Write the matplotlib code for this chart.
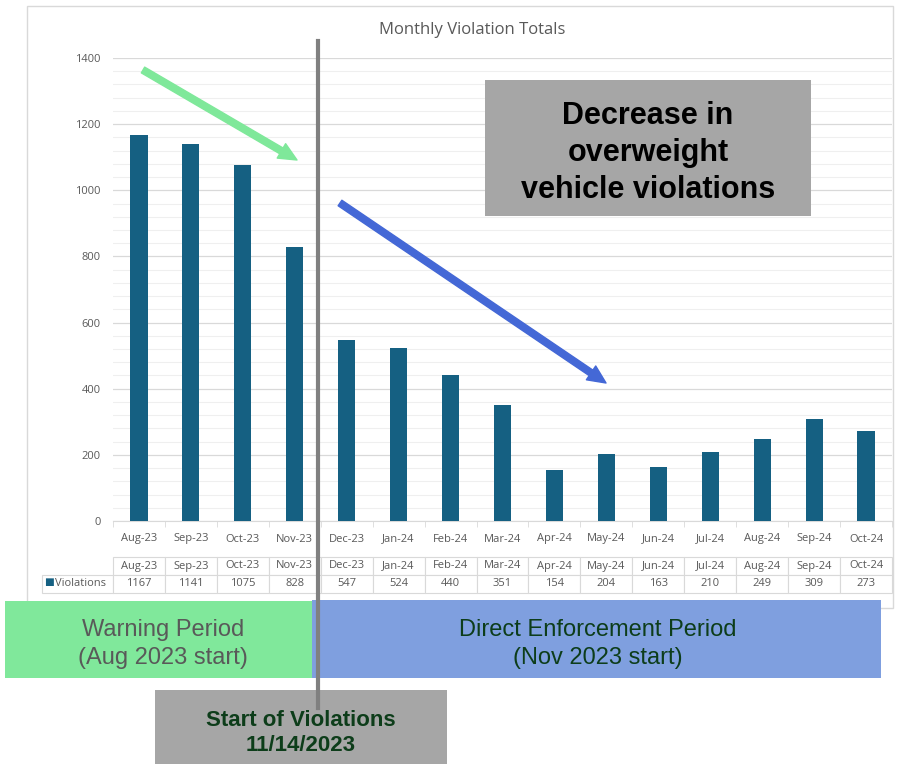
import matplotlib
matplotlib.use("Agg")
import matplotlib.pyplot as plt
import numpy as np
from matplotlib.patches import Rectangle, FancyArrowPatch
from matplotlib.lines import Line2D
from matplotlib.ticker import MultipleLocator

months = ["Aug-23", "Sep-23", "Oct-23", "Nov-23", "Dec-23", "Jan-24", "Feb-24", "Mar-24",
          "Apr-24", "May-24", "Jun-24", "Jul-24", "Aug-24", "Sep-24", "Oct-24"]
violations = [1167, 1141, 1075, 828, 547, 524, 440, 351, 154, 204, 163, 210, 249, 309, 273]
series_name = "Violations"
chart_title = "Monthly Violation Totals"

W, H = 897, 764
bar_color = "#156082"
txt_gray = "#595959"
grid_major = "#d9d9d9"
grid_minor = "#efefef"


def fx(x):
    return x / W


def fy(y):
    return 1 - y / H


fig = plt.figure(figsize=(W / 100, H / 100), dpi=100)
plt.rcParams["font.family"] = ["Open Sans", "DejaVu Sans"]

# chart frame
fig.add_artist(Rectangle((fx(27), fy(608)), (893 - 27) / W, (608 - 6) / H,
                         transform=fig.transFigure, facecolor="white",
                         edgecolor="#d9d9d9", lw=1, zorder=-1))

ax = fig.add_axes([fx(113), fy(521), (892 - 113) / W, (521 - 58) / H])
ax.patch.set_alpha(0)
x = np.arange(len(months))
ax.bar(x, violations, width=0.33, color=bar_color, zorder=3)
ax.set_xlim(-0.5, len(months) - 0.5)
ax.set_ylim(0, 1400)
ax.yaxis.set_major_locator(MultipleLocator(200))
ax.yaxis.set_minor_locator(MultipleLocator(40))
ax.yaxis.grid(True, which="major", color=grid_major, lw=0.9, zorder=0)
ax.yaxis.grid(True, which="minor", color=grid_minor, lw=0.8, zorder=0)
for s in ["top", "right", "left"]:
    ax.spines[s].set_visible(False)
ax.spines["bottom"].set_color(grid_major)
ax.set_xticks(x)
ax.set_xticklabels(months)
ax.set_xticks(np.arange(-0.5, len(months)), minor=True)
ax.tick_params(axis="x", which="major", length=0, pad=9, labelsize=8, labelcolor=txt_gray)
ax.tick_params(axis="x", which="minor", length=4, color=grid_major)
ax.tick_params(axis="y", which="both", length=0, pad=9, labelsize=8, labelcolor=txt_gray)

# data table under the axis
ax_w = 892 - 113
ax_h = 521 - 58
tbl = ax.table(cellText=[[""] + months, [series_name] + [str(v) for v in violations]],
               cellLoc="center",
               colWidths=[(113 - 42)] + [ax_w / len(months)] * len(months),
               bbox=[(42 - 113) / ax_w, (521 - 593) / ax_h, (892 - 42) / ax_w, (593 - 557) / ax_h])
tbl.auto_set_font_size(False)
tbl.set_fontsize(8)
for (r, c), cell in tbl.get_celld().items():
    cell.set_edgecolor(grid_major)
    cell.set_linewidth(0.8)
    cell.get_text().set_color(txt_gray)
tbl[0, 0].visible_edges = "open"
tbl[1, 0]._loc = "right"
tbl[1, 0].get_text().set_ha("right")
fig.text(fx(49), fy(582), "\u25a0", color=bar_color, fontsize=7.5, ha="center", va="center",
         family="DejaVu Sans")

fig.text(fx(472), fy(30), chart_title, fontsize=12, color=txt_gray, ha="center", va="center")

# trend arrows
arrow_style = "simple,head_width=0.6,head_length=0.65,tail_width=0.24"
fig.add_artist(FancyArrowPatch((fx(143), fy(70)), (fx(297), fy(160)), transform=fig.transFigure,
                               arrowstyle=arrow_style, mutation_scale=20, color="#7fe89a",
                               shrinkA=0, shrinkB=0, zorder=5))
fig.add_artist(FancyArrowPatch((fx(340), fy(203)), (fx(606), fy(383)), transform=fig.transFigure,
                               arrowstyle=arrow_style, mutation_scale=20, color="#4468d6",
                               shrinkA=0, shrinkB=0, zorder=5))

# callout box
fig.add_artist(Rectangle((fx(485), fy(216)), (811 - 485) / W, (216 - 80) / H,
                         transform=fig.transFigure, facecolor="#a6a6a6", edgecolor="none", zorder=5))
fig.text(fx(648), fy(153), "Decrease in\noverweight\nvehicle violations", fontsize=22,
         fontweight="bold", family="Liberation Sans", ha="center", va="center",
         linespacing=1.3, color="black", zorder=6)

# period boxes
fig.add_artist(Rectangle((fx(5), fy(678)), (312 - 5) / W, (678 - 601) / H,
                         transform=fig.transFigure, facecolor="#80e89b", edgecolor="none", zorder=6))
fig.text(fx(163), fy(644), "Warning Period\n(Aug 2023 start)", fontsize=17,
         family="Liberation Sans", ha="center", va="center", linespacing=1.35,
         color=txt_gray, zorder=7)
fig.add_artist(Rectangle((fx(312), fy(678)), (881 - 312) / W, (678 - 600) / H,
                         transform=fig.transFigure, facecolor="#7f9fdf", edgecolor="none", zorder=6))
fig.text(fx(598), fy(644), "Direct Enforcement Period\n(Nov 2023 start)", fontsize=17,
         family="Liberation Sans", ha="center", va="center", linespacing=1.35,
         color="#0d3d1a", zorder=7)

# start of violations box
fig.add_artist(Rectangle((fx(155), fy(764)), (447 - 155) / W, (764 - 690) / H,
                         transform=fig.transFigure, facecolor="#a6a6a6", edgecolor="none", zorder=7))
fig.text(fx(301), fy(733), "Start of Violations\n11/14/2023", fontsize=16, fontweight="bold",
         family="Liberation Sans", ha="center", va="center", linespacing=1.3,
         color="#0d3d1a", zorder=8)

# vertical marker line
fig.add_artist(Line2D([fx(318), fx(318)], [fy(41), fy(708)], transform=fig.transFigure,
                      color="#808080", lw=3, zorder=9))

fig.savefig("out.png", dpi=100)
